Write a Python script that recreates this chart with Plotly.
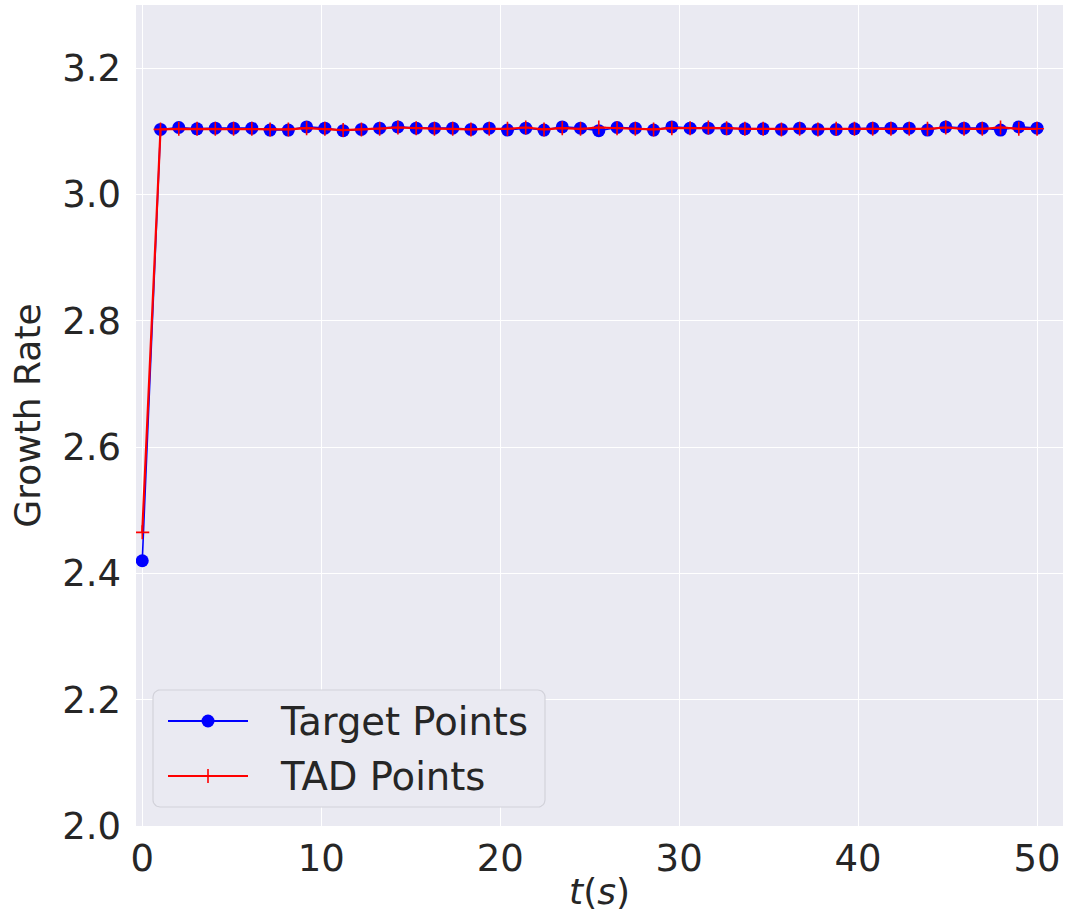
import numpy as np
import plotly.graph_objects as go

# time samples (50 evenly spaced points over 0..50 s)
t = np.linspace(0, 50, 50)

target_points = [
    2.420, 3.103, 3.106, 3.104, 3.105, 3.105, 3.105, 3.102, 3.102, 3.107,
    3.105, 3.101, 3.103, 3.105, 3.107, 3.105, 3.105, 3.105, 3.103, 3.105,
    3.102, 3.105, 3.102, 3.107, 3.105, 3.101, 3.106, 3.105, 3.102, 3.107,
    3.105, 3.105, 3.104, 3.104, 3.104, 3.103, 3.105, 3.103, 3.103, 3.104,
    3.105, 3.105, 3.105, 3.102, 3.107, 3.105, 3.105, 3.102, 3.107, 3.105,
]

tad_points = [
    2.465, 3.103, 3.104, 3.104, 3.104, 3.104, 3.104, 3.103, 3.103, 3.105,
    3.104, 3.102, 3.103, 3.104, 3.106, 3.105, 3.104, 3.104, 3.103, 3.104,
    3.104, 3.106, 3.103, 3.105, 3.104, 3.106, 3.105, 3.104, 3.103, 3.105,
    3.105, 3.106, 3.105, 3.104, 3.104, 3.103, 3.104, 3.103, 3.104, 3.104,
    3.104, 3.104, 3.104, 3.104, 3.106, 3.104, 3.104, 3.106, 3.104, 3.104,
]

x_ticks = [0, 10, 20, 30, 40, 50]
y_ticks = [2.0, 2.2, 2.4, 2.6, 2.8, 3.0, 3.2]

FONT = "DejaVu Sans"
TEXT = "#262626"
BG = "#EAEAF2"
FS_TICK = 37
FS_TITLE = 36
FS_LEG = 38.5

W, H = 1066, 912
ML, MR, MT, MB = 136, 3, 5, 86
PX0, PX1 = ML, W - MR
PY0, PY1 = MT, H - MB

BLUE_MARK = dict(symbol="circle", size=13, color="#0000FF")
RED_MARK = dict(symbol="cross-thin", size=10, line=dict(color="#FF0000", width=1.6))

fig = go.Figure()

fig.add_trace(go.Scatter(
    x=t, y=target_points, mode="lines+markers", name="Target Points",
    line=dict(color="#0000FF", width=1.6), marker=BLUE_MARK, showlegend=False,
))
fig.add_trace(go.Scatter(
    x=t, y=tad_points, mode="lines+markers", name="TAD Points",
    line=dict(color="#FF0000", width=2.2), marker=RED_MARK, showlegend=False,
))


def rounded_box(x0, y0, x1, y1, r, n=8):
    """Outline of a rounded rectangle in pixel space (y grows downward)."""
    xs, ys = [], []
    corners = [(x1 - r, y0 + r, -90, 0), (x1 - r, y1 - r, 0, 90),
               (x0 + r, y1 - r, 90, 180), (x0 + r, y0 + r, 180, 270)]
    for cx, cy, a0, a1 in corners:
        for a in np.linspace(np.radians(a0), np.radians(a1), n):
            xs.append(cx + r * np.cos(a))
            ys.append(cy + r * np.sin(a))
    xs.append(xs[0])
    ys.append(ys[0])
    return xs, ys


# legend frame drawn in a pixel-space overlay, above the grid
bx, by = rounded_box(153, 690, 545, 807, 7)
fig.add_trace(go.Scatter(
    x=bx, y=by, xaxis="x2", yaxis="y2", mode="lines", fill="toself",
    fillcolor="#EAEAF2", line=dict(color="#D2D2DA", width=1.2),
    showlegend=False, hoverinfo="skip"))

legend_rows = [
    ("Target Points", "#0000FF", BLUE_MARK, 721),
    ("TAD Points", "#FF0000", RED_MARK, 776),
]
for label, color, mk, yy in legend_rows:
    fig.add_trace(go.Scatter(
        x=[168, 248], y=[yy, yy], xaxis="x2", yaxis="y2", mode="lines",
        line=dict(color=color, width=1.8), showlegend=False, hoverinfo="skip"))
    fig.add_trace(go.Scatter(
        x=[208], y=[yy], xaxis="x2", yaxis="y2", mode="markers",
        marker=mk, showlegend=False, hoverinfo="skip"))
    fig.add_annotation(x=278, y=yy, xref="x2", yref="y2", text=label,
                       showarrow=False, xanchor="left", yanchor="middle",
                       font=dict(family=FONT, size=FS_LEG, color=TEXT))

fig.update_layout(
    width=W, height=H,
    margin=dict(l=ML, r=MR, t=MT, b=MB),
    paper_bgcolor="white",
    plot_bgcolor=BG,
    font=dict(family=FONT, size=FS_TICK, color=TEXT),
    xaxis=dict(
        range=[-0.35, 51.45], tickvals=x_ticks, ticktext=[str(v) for v in x_ticks],
        tickfont=dict(family=FONT, size=FS_TICK, color=TEXT),
        showgrid=True, gridcolor="white", gridwidth=1.3, zeroline=False,
        showline=False, ticks="", ticklabelstandoff=7,
        title=dict(text="<i>t</i>(<i>s</i>)", standoff=2,
                   font=dict(family=FONT, size=FS_TITLE, color=TEXT)),
    ),
    yaxis=dict(
        range=[2.0, 3.3], tickvals=y_ticks, ticktext=[f"{v:.1f}" for v in y_ticks],
        tickfont=dict(family=FONT, size=FS_TICK, color=TEXT),
        showgrid=True, gridcolor="white", gridwidth=1.3, zeroline=False,
        showline=False, ticks="", ticklabelstandoff=14,
        title=dict(text="Growth Rate", standoff=10,
                   font=dict(family=FONT, size=FS_TITLE, color=TEXT)),
    ),
    xaxis2=dict(domain=[0, 1], range=[PX0, PX1], overlaying="x", anchor="y2",
                visible=False, fixedrange=True),
    yaxis2=dict(domain=[0, 1], range=[PY1, PY0], overlaying="y", anchor="x2",
                visible=False, fixedrange=True),
)

fig.write_html("out.html")
